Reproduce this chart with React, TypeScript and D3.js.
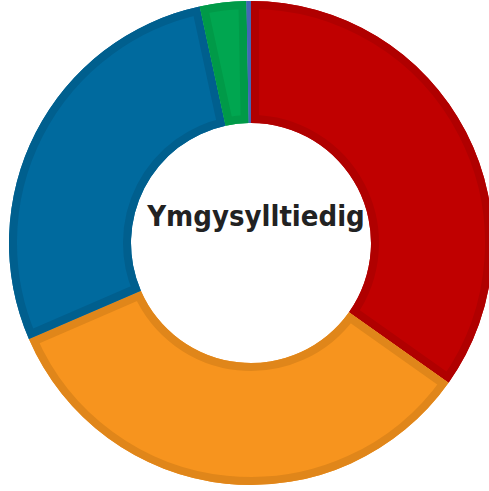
import React from "react";
import * as d3 from "d3";

const categories = ["A", "B", "C", "D", "E"];
const values = [34.8, 33.7, 28.1, 3.1, 0.3];
const fills = ["#c00000", "#f7941e", "#006a9e", "#00a650", "#4a6fc0"];
const strokes = ["#b00000", "#e0861a", "#005f8e", "#009a48", "#4466b5"];
const centerLabel = "Ymgysylltiedig";

export default function App() {
  const W = 489, H = 491;
  const cx = 251, cy = 243, outer = 242, inner = 120;
  const pie = d3.pie<number>().sort(null).value((d) => d);
  const arcs = pie(values);
  const arc = d3.arc<d3.PieArcDatum<number>>().innerRadius(inner).outerRadius(outer);
  return (
    <svg width={W} height={H} style={{ position: "absolute", left: 0, top: 0 }}>
      <defs>
        {arcs.map((a, i) => (
          <clipPath id={`clip${i}`} key={i}>
            <path d={arc(a) || ""} />
          </clipPath>
        ))}
      </defs>
      <g transform={`translate(${cx},${cy})`}>
        {arcs.map((a, i) => (
          <g key={categories[i]}>
            <path d={arc(a) || ""} fill={fills[i]} />
            <path
              d={arc(a) || ""}
              fill="none"
              stroke={strokes[i]}
              strokeWidth={16}
              clipPath={`url(#clip${i})`}
            />
          </g>
        ))}
        <text
          x={5}
          y={-17}
          textAnchor="middle"
          fontFamily="DejaVu Sans Condensed, DejaVu Sans"
          fontStretch="condensed"
          fontWeight="bold"
          fontSize={29}
          fill="#222"
        >
          {centerLabel}
        </text>
      </g>
    </svg>
  );
}
